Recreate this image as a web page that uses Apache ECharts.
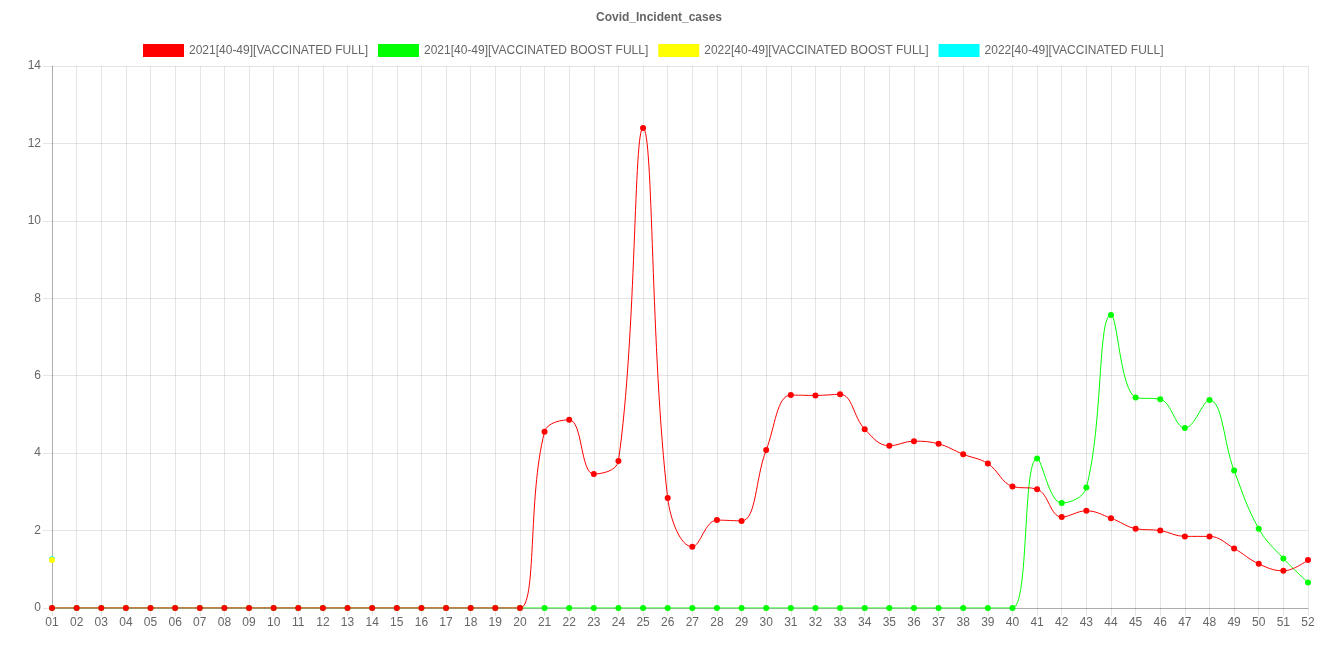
<!DOCTYPE html>
<html><head><meta charset="utf-8">
<script src="https://cdn.jsdelivr.net/npm/echarts@6/dist/echarts.min.js"></script>
<style>html,body{margin:0;padding:0;background:#fff}#c{width:1318px;height:659px}</style>
</head><body><div id="c"></div>
<script>
const weeks = ['01','02','03','04','05','06','07','08','09','10','11','12','13','14','15','16','17','18','19','20','21','22','23','24','25','26','27','28','29','30','31','32','33','34','35','36','37','38','39','40','41','42','43','44','45','46','47','48','49','50','51','52'];
const seriesNames = ['2021[40-49][VACCINATED FULL]','2021[40-49][VACCINATED BOOST FULL]','2022[40-49][VACCINATED BOOST FULL]','2022[40-49][VACCINATED FULL]'];
const vaccFull2021 = [0,0,0,0,0,0,0,0,0,0,0,0,0,0,0,0,0,0,0,0,
  4.55,4.86,3.46,3.80,12.40,2.84,1.58,2.27,2.25,4.08,5.50,5.49,5.52,4.62,4.19,4.31,4.24,3.97,3.73,3.14,
  3.07,2.35,2.51,2.32,2.05,2.00,1.85,1.85,1.54,1.14,0.96,1.24];
const boostFull2021 = [0,0,0,0,0,0,0,0,0,0,0,0,0,0,0,0,0,0,0,0,
  0,0,0,0,0,0,0,0,0,0,0,0,0,0,0,0,0,0,0,0,
  3.86,2.71,3.11,7.57,5.44,5.39,4.65,5.37,3.55,2.05,1.28,0.66];
const boostFull2022 = [1.24];
const vaccFull2022 = [1.26];
const colors = ['#ff0000','#00ff00','#ffff00','#00ffff'];
const yTicks = {min:0, max:14, interval:2};

const chart = echarts.init(document.getElementById('c'), null, {renderer:'canvas'});
const font = 'Liberation Sans, Helvetica, Arial, sans-serif';
const gridColor = 'rgba(0,0,0,0.1)';
function mk(i, data, z){
  return {name:seriesNames[i], type:'line', data:data, smooth:0.4, symbol:'circle', symbolSize:6,
    showSymbol:true, showAllSymbol:true, z:z,
    itemStyle:{color:colors[i]}, lineStyle:{color:colors[i], width:1}};
}
chart.setOption({
  animation:false,
  color:colors,
  title:{text:'Covid_Incident_cases', left:'center', top:7,
    textStyle:{fontFamily:font, fontSize:12, fontWeight:'bold', color:'#666'}},
  legend:{top:39, left:138, itemWidth:41, itemHeight:13, itemGap:10, icon:'rect',
    textStyle:{fontFamily:font, fontSize:12, color:'#666'},
    data:seriesNames},
  grid:{left:52, right:10, top:66, bottom:51, containLabel:false},
  xAxis:{type:'category', data:weeks, boundaryGap:false,
    axisLine:{show:true, lineStyle:{color:'rgba(0,0,0,0.25)'}},
    axisTick:{show:true, length:8, alignWithLabel:true, lineStyle:{color:gridColor}},
    axisLabel:{fontFamily:font, fontSize:12, color:'#666', margin:9, interval:0},
    splitLine:{show:true, lineStyle:{color:gridColor}}},
  yAxis:{type:'value', min:yTicks.min, max:yTicks.max, interval:yTicks.interval,
    axisLine:{show:true, lineStyle:{color:'rgba(0,0,0,0.25)'}},
    axisTick:{show:true, length:9, lineStyle:{color:gridColor}},
    axisLabel:{fontFamily:font, fontSize:12, color:'#666', margin:11},
    splitLine:{show:true, lineStyle:{color:gridColor}}},
  series:[
    mk(3, vaccFull2022, 2),
    mk(2, boostFull2022, 3),
    mk(1, boostFull2021, 4),
    mk(0, vaccFull2021, 5)
  ]
});
</script></body></html>
